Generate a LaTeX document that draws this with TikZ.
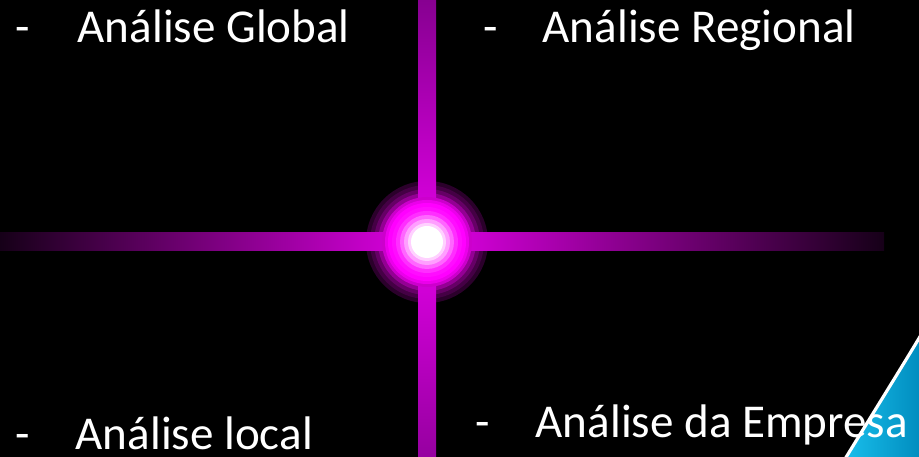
\documentclass[tikz,border=0pt]{standalone}
\usepackage{fontspec}
\setmainfont{Carlito}
\usepackage{tikz}
\usetikzlibrary{positioning}
\usepackage{xcolor}

\definecolor{barend}{RGB}{22,0,24}
\definecolor{barmid}{RGB}{225,0,230}
\definecolor{vtop}{RGB}{135,0,145}
\definecolor{vbot}{RGB}{150,0,160}
\definecolor{glow}{RGB}{255,0,255}
\definecolor{swooshlight}{RGB}{25,190,235}
\definecolor{swooshdark}{RGB}{0,140,190}

\begin{document}
\begin{tikzpicture}[x=0.1mm, y=-0.1mm,
  every node/.style={text=white, font=\fontsize{13.4}{16}\selectfont, inner sep=0pt},
  dashnode/.style={anchor=base west},
  label/.style={anchor=base west}]
  \fill[black] (0,0) rectangle (919,457);
  \useasboundingbox (0,0) rectangle (919,457);
  % outer glow rings
  \foreach \r/\c in {61/{glow!17!black},57/{glow!27!black},53/{glow!40!black},49/{glow!58!black}} {
    \fill[\c] (427,242) circle (\r);
  }
  % bars
  \shade[left color=barend, right color=barmid] (0,233) rectangle (427,251);
  \shade[left color=barmid, right color=barend] (427,233) rectangle (884,251);
  \shade[top color=vtop, bottom color=barmid] (418,0) rectangle (436,242);
  \shade[top color=barmid, bottom color=vbot] (418,242) rectangle (436,457);
  % inner glow rings
  \foreach \r/\c in {45/{glow!80!black},42/{glow!92!black},39/glow,35/{glow!95!white},31/{glow!82!white},27/{glow!60!white},23/{glow!38!white},19/{glow!18!white},16/white} {
    \fill[\c] (427,242) circle (\r);
  }
  % corner swoosh
  \shade[left color=swooshlight, right color=swooshdark, draw=white, line width=0.9pt]
    (845,459) .. controls (875,410) and (900,370) .. (921,335) -- (921,459) -- cycle;
  % texts
  \node[dashnode] (d1) at (15,43) {-};
  \node[label] (global) at (77,43) {Análise Global};
  \node[dashnode] (d2) at (483,43) {-};
  \node[label] (regional) at (542,43) {Análise Regional};
  \node[dashnode] (d3) at (15,450) {-};
  \node[label] (local) at (75,450) {Análise local};
  \node[dashnode] (d4) at (475,438) {-};
  \node[label] (empresa) at (535,438) {Análise da Empresa};
\end{tikzpicture}
\end{document}
